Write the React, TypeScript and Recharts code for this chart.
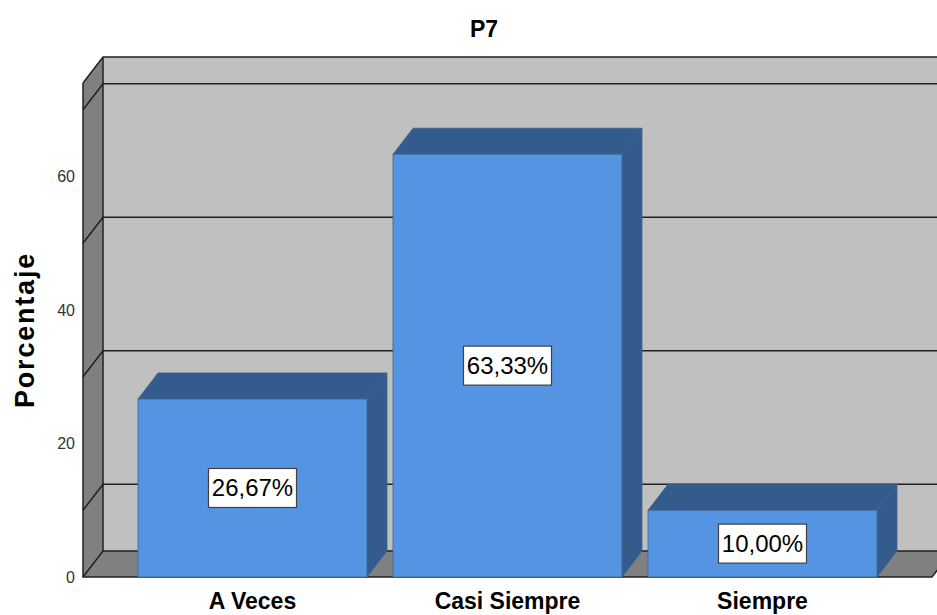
import React from "react";
import {
  BarChart,
  Bar,
  XAxis,
  YAxis,
  ReferenceArea,
  LabelList,
} from "recharts";

const categories = ["A Veces", "Casi Siempre", "Siempre"];
const percentages = [26.67, 63.33, 10.0];
const yTicks = [0, 20, 40, 60];
const gridValues = [10, 30, 50, 70];
const Y_MAX = 74;

const data = categories.map((name, i) => ({ name, value: percentages[i] }));

// 3D depth offset of the back plane and band padding of the x axis
const DX = 20;
const DY = -26;
const PAD = 42;
const FONT = '"Liberation Sans", Arial, Helvetica, sans-serif';
const EDGE = "#202020";

// eslint-disable-next-line @typescript-eslint/no-explicit-any
function Walls(props: any) {
  const { x = 0, y = 0, width = 0, height = 0 } = props;
  const L = x - PAD;
  const R = x + width + PAD;
  const T = y;
  const B = y + height;
  return (
    <g>
      <rect x={L + DX} y={T + DY} width={R - L} height={B - T} fill="#c0c0c0" />
      <polygon
        points={`${L},${T} ${L + DX},${T + DY} ${L + DX},${B + DY} ${L},${B}`}
        fill="#808080"
      />
      <polygon
        points={`${L},${B} ${L + DX},${B + DY} ${R + DX},${B + DY} ${R},${B}`}
        fill="#808080"
      />
      <g stroke={EDGE} strokeWidth={1.5} fill="none">
        <path d={`M${L},${T} L${L},${B} L${R},${B} L${R + DX},${B + DY}`} />
        <path d={`M${L + DX},${T + DY} L${L + DX},${B + DY}`} />
        <path d={`M${L},${T} L${L + DX},${T + DY} L${R + DX},${T + DY}`} />
        <path d={`M${L},${B} L${L + DX},${B + DY} L${R + DX},${B + DY}`} />
      </g>
    </g>
  );
}

// eslint-disable-next-line @typescript-eslint/no-explicit-any
function GridLine(props: any) {
  const { x = 0, y = 0, width = 0 } = props;
  const L = x - PAD;
  const R = x + width + PAD;
  return (
    <path
      d={`M${L},${y} L${L + DX},${y + DY} L${R + DX},${y + DY}`}
      stroke={EDGE}
      strokeWidth={1.5}
      fill="none"
    />
  );
}

// eslint-disable-next-line @typescript-eslint/no-explicit-any
function Bar3D(props: any) {
  const { x = 0, y = 0, width = 0, height = 0 } = props;
  const w = width;
  const h = height;
  return (
    <g stroke="#3f6390" strokeWidth={0.8}>
      <polygon
        points={`${x},${y} ${x + DX},${y + DY} ${x + w + DX},${y + DY} ${x + w},${y}`}
        fill="#335b8c"
      />
      <polygon
        points={`${x + w},${y} ${x + w + DX},${y + DY} ${x + w + DX},${y + h + DY} ${x + w},${y + h}`}
        fill="#335b8c"
      />
      <rect x={x} y={y} width={w} height={h} fill="#5494e2" />
    </g>
  );
}

// eslint-disable-next-line @typescript-eslint/no-explicit-any
function ValueLabel(props: any) {
  const { x = 0, y = 0, width = 0, height = 0, value = 0 } = props;
  const cx = Number(x) + Number(width) / 2;
  const cy = Number(y) + Number(height) / 2;
  const text = `${Number(value).toFixed(2).replace(".", ",")}%`;
  return (
    <g>
      <rect
        x={cx - 44}
        y={cy - 19.5}
        width={88}
        height={39}
        fill="#ffffff"
        stroke="#404040"
        strokeWidth={1.2}
      />
      <text
        x={cx}
        y={cy + 8.5}
        textAnchor="middle"
        fontSize={24}
        fontFamily={FONT}
        fill="#000"
      >
        {text}
      </text>
    </g>
  );
}

// eslint-disable-next-line @typescript-eslint/no-explicit-any
function YTitle(props: any) {
  const vb = props.viewBox || { x: 0, y: 0, width: 0, height: 0 };
  const tx = 34;
  const ty = vb.y + vb.height / 2;
  return (
    <text
      x={tx}
      y={ty}
      transform={`rotate(-90 ${tx} ${ty})`}
      textAnchor="middle"
      fontSize={27}
      fontWeight="bold"
      letterSpacing={1.8}
      fontFamily={FONT}
      fill="#000"
    >
      Porcentaje
    </text>
  );
}

export default function App() {
  return (
    <div
      style={{
        position: "absolute",
        left: 0,
        top: 0,
        width: 937,
        height: 615,
        background: "#fff",
        fontFamily: FONT,
      }}
    >
      <div
        style={{
          position: "absolute",
          left: 484,
          top: 18,
          transform: "translateX(-50%)",
          fontSize: 23,
          lineHeight: "23px",
          fontWeight: "bold",
          color: "#000",
        }}
      >
        P7
      </div>
      <BarChart
        width={937}
        height={615}
        data={data}
        margin={{ top: 83, right: 5, bottom: 0, left: 0 }}
        barSize={229}
      >
        <XAxis
          dataKey="name"
          height={38}
          padding={{ left: PAD, right: PAD }}
          axisLine={false}
          tickLine={false}
          tickSize={0}
          tickMargin={16}
          interval={0}
          tick={{ fontSize: 23, fontWeight: "bold", fill: "#000", fontFamily: FONT }}
        />
        <YAxis
          width={83}
          domain={[0, Y_MAX]}
          ticks={yTicks}
          axisLine={false}
          tickLine={false}
          tickSize={0}
          tickMargin={8}
          tick={{ fontSize: 16, fill: "#333", fontFamily: FONT }}
          label={{ content: YTitle }}
        />
        <ReferenceArea
          y1={0}
          y2={Y_MAX}
          ifOverflow="visible"
          shape={Walls}
        />
        {gridValues.map((v) => (
          <ReferenceArea
            key={v}
            y1={0}
            y2={v}
            ifOverflow="visible"
            shape={GridLine}
          />
        ))}
        <Bar
          dataKey="value"
          isAnimationActive={false}
          shape={Bar3D}
        >
          <LabelList dataKey="value" content={ValueLabel} />
        </Bar>
      </BarChart>
    </div>
  );
}
